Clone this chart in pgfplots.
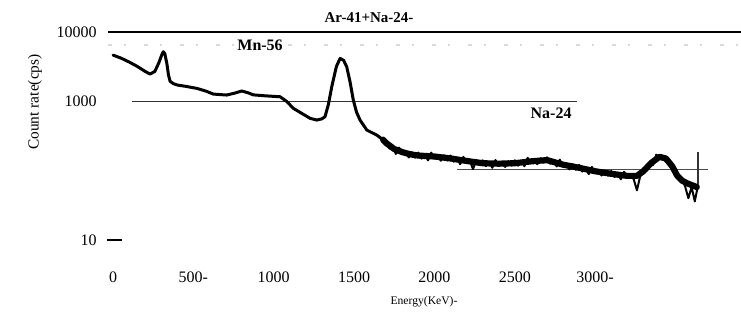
\documentclass[border=0pt]{standalone}
\usepackage{fontspec}
\setmainfont{Liberation Serif}
\usepackage{pgfplots}
\pgfplotsset{compat=1.18}

\begin{document}
\begin{tikzpicture}
\path[use as bounding box] (0pt,0pt) rectangle (370.5pt,161pt);
\begin{axis}[
  at={(52.5pt,30.6pt)}, anchor=south west,
  scale only axis, width=317.4pt, height=124.8pt,
  xmin=-50, xmax=3900,
  ymode=log, log basis y=10, ymin=5, ymax=20000,
  axis line style={draw=none},
  major tick length=0pt, minor tick length=0pt,
  ytick={10,1000,10000}, yticklabels={10,1000,10000},
  xtick={0,500,1000,1500,2000,2500,3000},
  xticklabels={0,500-,1000,1500,2000,2500,3000-},
  ticklabel style={font=\fontsize{8}{9}\selectfont},
  xticklabel style={anchor=center, yshift=-8pt},
  yticklabel style={anchor=east, inner sep=0pt, xshift=-4pt},
  clip=false,
]
% reference levels
\addplot[black, line width=1.2pt] coordinates {(-31,10000) (3905,10000)};
\addplot[black!15, line width=0.6pt, dash pattern=on 2pt off 6pt on 1pt off 9pt]
  coordinates {(-31,6500) (3905,6500)};
\addplot[black!80, line width=0.75pt] coordinates {(118,1000) (2887,1000)};
\addplot[black!70, line width=0.6pt] coordinates {(2141,104) (3703,104)};
\addplot[black!80, line width=0.6pt] coordinates {(3640,185) (3640,58)};
\addplot[black, line width=0.8pt] coordinates {(-37,10) (56,10)};

% gamma spectrum, low-energy part
\addplot[black, line width=1.5pt, line join=round, line cap=round] coordinates {
 (0,4650) (50,4200) (100,3700) (150,3200) (200,2700) (230,2480) (260,2700)
 (285,3600) (305,4800) (313,5200) (322,4900) (335,3500) (345,2400) (355,1950)
 (375,1800) (400,1720) (450,1650) (521,1540) (580,1400) (624,1273) (707,1233)
 (760,1320) (801,1410) (840,1330) (873,1240) (950,1200) (1039,1165) (1080,1000)
 (1122,793) (1170,680) (1226,569) (1268,537) (1300,560) (1319,600) (1340,900)
 (1361,1626) (1390,3200) (1413,4170) (1435,3900) (1454,3160) (1475,1900)
 (1495,1045) (1515,700) (1537,537) (1579,385) (1641,326) (1680,280) (1700,262)
};
% high-energy continuum: mean level
\addplot[black, line width=3.1pt, line join=round, line cap=round] coordinates {
 (1680,280) (1700,250) (1750,205) (1800,185) (1850,172) (1900,165) (2000,160)
 (2100,150) (2200,138) (2300,128) (2400,126) (2500,128) (2600,136) (2700,142)
 (2800,122) (2900,110) (3000,98) (3100,90) (3200,84) (3260,84) (3300,98)
 (3350,130) (3400,158) (3440,150) (3480,115) (3510,85) (3540,72) (3570,66)
 (3600,62) (3632,58)
};
% high-energy continuum: channel scatter
\addplot[black, line width=1pt, line join=round] coordinates {
 (1700,275) (1720,209) (1740,223) (1760,174) (1780,215) (1800,174) (1820,185)
 (1840,155) (1860,184) (1880,154) (1900,182) (1920,149) (1940,171) (1960,141)
 (1980,182) (2000,150) (2020,163) (2040,139) (2060,166) (2080,140) (2100,165)
 (2120,135) (2140,152) (2160,124) (2180,158) (2200,130) (2220,140) (2240,105)
 (2260,143) (2280,120) (2300,141) (2320,116) (2340,133) (2360,110) (2380,142)
 (2400,118) (2420,130) (2440,113) (2460,137) (2480,118) (2500,141) (2520,118)
 (2540,138) (2560,116) (2580,153) (2600,128) (2620,141) (2640,124) (2660,151)
 (2680,130) (2700,156) (2720,126) (2740,143) (2760,115) (2780,144) (2800,115)
 (2820,123) (2840,104) (2860,124) (2880,103) (2900,121) (2920,97) (2940,110)
 (2960,89) (2980,113) (3000,92) (3020,99) (3040,85) (3060,100) (3080,85)
 (3100,99) (3120,81) (3140,92) (3160,75) (3180,96) (3200,79) (3220,87)
 (3240,75) (3260,52) (3280,83) (3300,108) (3320,100) (3340,131) (3360,120)
 (3380,170) (3400,149) (3420,161) (3440,134) (3460,146) (3480,106) (3500,105)
 (3520,75) (3540,76) (3560,59) (3580,40) (3600,58) (3620,36) (3640,62)
};

% nuclide labels
\node[font=\bfseries\fontsize{7.5}{9}\selectfont] at (axis cs:1593,15900) {Ar-41+Na-24-};
\node[font=\bfseries\fontsize{8}{9}\selectfont] at (axis cs:915,6490) {Mn-56};
\node[font=\bfseries\fontsize{8}{9}\selectfont] at (axis cs:2726,678) {Na-24};
\end{axis}
\node[rotate=90, font=\fontsize{7.7}{9}\selectfont] at (17.5pt,110pt) {Count rate(cps)};
\node[font=\fontsize{5.8}{7}\selectfont] at (212pt,10pt) {Energy(KeV)-};
\end{tikzpicture}
\end{document}
